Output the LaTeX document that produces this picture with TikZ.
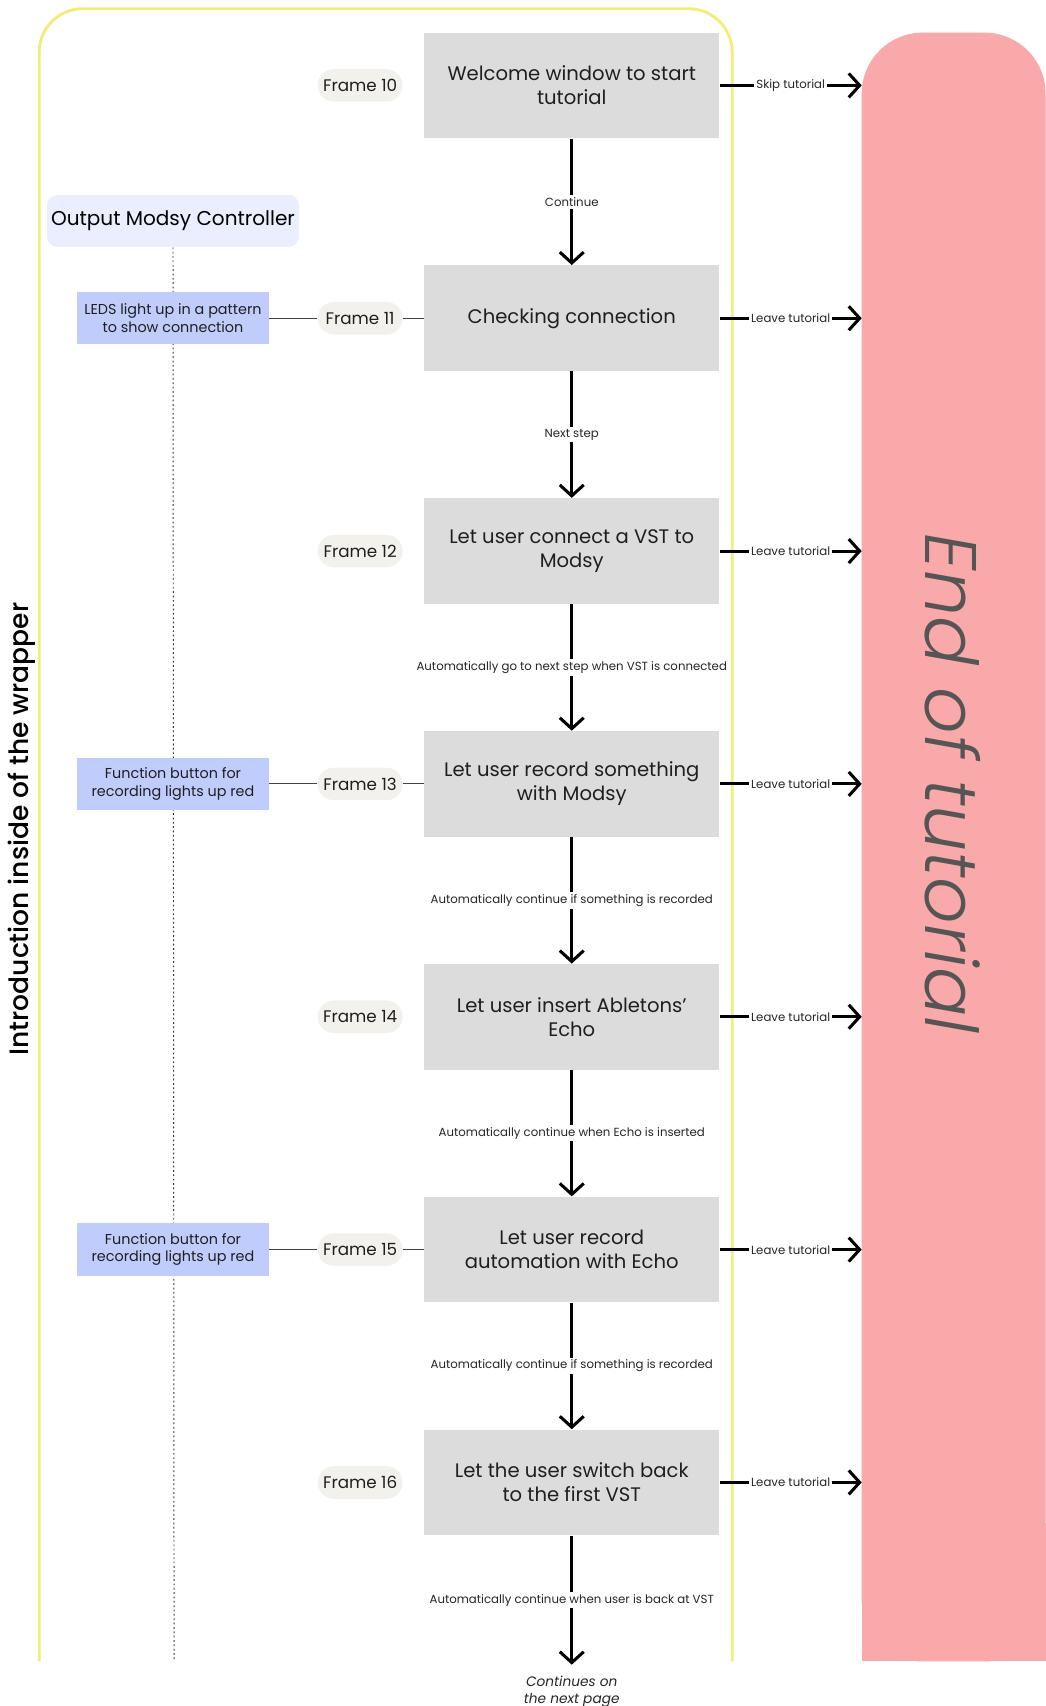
\documentclass[tikz,border=0pt]{standalone}
\usepackage{fontspec}
\setmainfont{Poppins}
\newfontfamily\endfont{Poppins Light}
\newfontfamily\medfont{Poppins Medium}
\usetikzlibrary{arrows.meta,positioning}
\definecolor{wrapyellow}{HTML}{F2EC78}
\definecolor{boxgray}{HTML}{DCDCDC}
\definecolor{pillbg}{HTML}{F2F1EC}
\definecolor{bluebox}{HTML}{C0CDFC}
\definecolor{lightblue}{HTML}{EBEEFE}
\definecolor{endpink}{HTML}{F9A9A9}
\definecolor{endtext}{HTML}{555555}
\tikzset{
  stepbox/.style={fill=boxgray, minimum width=135.5pt, minimum height=48.5pt, align=center, inner sep=0pt,
    font=\fontsize{9}{11}\selectfont, text=black!88},
  pill/.style={fill=pillbg, rounded corners=7.5pt, minimum width=39pt, minimum height=15pt, inner sep=0pt,
    font=\fontsize{7.7}{8}\selectfont, text=black!88},
  ctrlbox/.style={fill=bluebox, minimum width=88pt, minimum height=24pt, align=center, inner sep=0pt,
    font=\fontsize{6.6}{8}\selectfont, text=black!88},
  flowarrow/.style={line width=1.4pt, -{Straight Barb[length=5pt,width=11pt,line width=1.4pt]}},
  elabel/.style={fill=white, inner sep=1pt, font=\fontsize{5.4}{6}\selectfont, text=black!85},
  thinlink/.style={draw=black!75, line width=0.5pt},
}
\begin{document}
\begin{tikzpicture}[x=0.5pt,y=-0.5pt]
\useasboundingbox (0,0) rectangle (961,1568);
% end of tutorial
\fill[endpink, rounded corners=28pt] (792,1527) -- (792,30) -- (961,30) -- (961,1527) -- cycle;
\fill[endpink] (792,1400) rectangle (961,1527);
\node[rotate=-90, text=endtext, font=\endfont\itshape\fontsize{33.5}{36}\selectfont] (endlabel) at (876,720) {End of tutorial};
% wrapper
\draw[wrapyellow, line width=1.3pt, rounded corners=20pt] (36,1527) -- (36,8) -- (673,8) -- (673,1527);
\node[rotate=90, font=\medfont\fontsize{12.2}{14}\selectfont] (intro) at (20,762) {Introduction inside of the wrapper};
% controller column
\node[fill=lightblue, rounded corners=5pt, minimum width=116pt, minimum height=24pt, inner sep=0pt,
  font=\fontsize{9.2}{10}\selectfont] (ctrl) at (159,203) {Output Modsy Controller};
\coordinate (ctrlend) at (160,1527);
\draw[black!80, line width=0.45pt, dash pattern=on 0.8pt off 1.2pt] (ctrl.south) -- (ctrlend);
% steps
\node[stepbox] (s1) at (525.5,78.5) {Welcome window to start\\tutorial};
\node[stepbox] (s2) at (525.5,292.5) {Checking connection};
\node[stepbox] (s3) at (525.5,506.5) {Let user connect a VST to\\Modsy};
\node[stepbox] (s4) at (525.5,720.5) {Let user record something\\with Modsy};
\node[stepbox] (s5) at (525.5,934.5) {Let user insert Abletons’\\Echo};
\node[stepbox] (s6) at (525.5,1148.5) {Let user record\\automation with Echo};
\node[stepbox] (s7) at (525.5,1362.5) {Let the user switch back\\to the first VST};
% frame pills
\node[pill] (f1) at (331,78.5) {Frame 10};
\node[pill] (f2) at (331,292.5) {Frame 11};
\node[pill] (f3) at (331,506.5) {Frame 12};
\node[pill] (f4) at (331,720.5) {Frame 13};
\node[pill] (f5) at (331,934.5) {Frame 14};
\node[pill] (f6) at (331,1148.5) {Frame 15};
\node[pill] (f7) at (331,1362.5) {Frame 16};
% controller boxes
\node[ctrlbox] (c2) at (159,292.5) {LEDS light up in a pattern\\to show connection};
\node[ctrlbox] (c4) at (159,720.5) {Function button for\\recording lights up red};
\node[ctrlbox] (c6) at (159,1148.5) {Function button for\\recording lights up red};
\draw[thinlink] (c2.east) -- (f2.west) (f2.east) -- (s2.west);
\draw[thinlink] (c4.east) -- (f4.west) (f4.east) -- (s4.west);
\draw[thinlink] (c6.east) -- (f6.west) (f6.east) -- (s6.west);
% flow arrows
\draw[flowarrow] (s1.south) -- node[elabel] {Continue} (s2.north);
\draw[flowarrow] (s2.south) -- node[elabel] {Next step} (s3.north);
\draw[flowarrow] (s3.south) -- node[elabel] {Automatically go to next step when VST is connected} (s4.north);
\draw[flowarrow] (s4.south) -- node[elabel] {Automatically continue if something is recorded} (s5.north);
\draw[flowarrow] (s5.south) -- node[elabel] {Automatically continue when Echo is inserted} (s6.north);
\draw[flowarrow] (s6.south) -- node[elabel] {Automatically continue if something is recorded} (s7.north);
\coordinate (next) at (525.5,1530);
\draw[flowarrow] (s7.south) -- node[elabel] {Automatically continue when user is back at VST} (next);
\node[below=5pt of next, align=center, inner sep=0pt, font=\itshape\fontsize{6.3}{8}\selectfont, text=black!85] (cont) {Continues on\\the next page};
% exits
\foreach \i/\t in {1/Skip tutorial,2/Leave tutorial,3/Leave tutorial,4/Leave tutorial,5/Leave tutorial,6/Leave tutorial,7/Leave tutorial}{
  \coordinate (x\i) at (792,{78.5+214*(\i-1)});
  \draw[flowarrow] (s\i.east) -- node[elabel, pos=0.5] {\t} (x\i);
}
\end{tikzpicture}
\end{document}
